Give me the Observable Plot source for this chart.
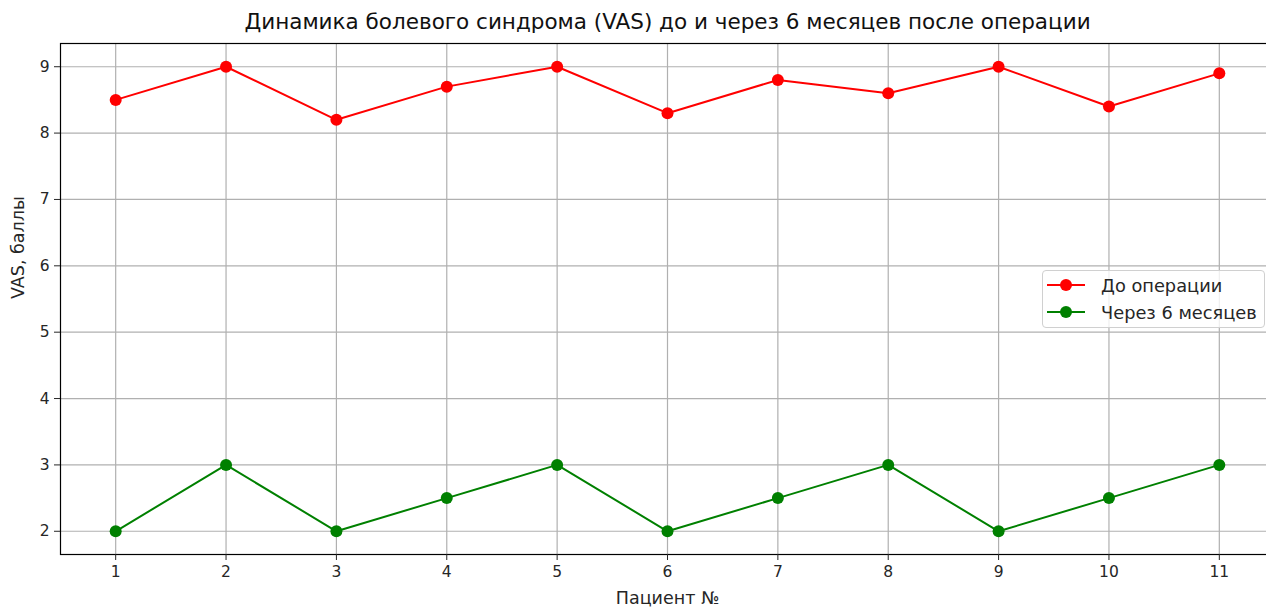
<!DOCTYPE html>
<html>
<head>
<meta charset="utf-8">
<script src="https://cdn.jsdelivr.net/npm/d3@7"></script>
<script src="https://cdn.jsdelivr.net/npm/@observablehq/plot@0.6"></script>
<style>
  html, body { margin: 0; padding: 0; background: #fff; overflow: hidden; }
  #wrap { position: relative; width: 1266px; height: 608px; overflow: hidden; }
  #wrap > svg { max-width: none !important; display: block; }
  #legend {
    position: absolute; left: 1042px; top: 270px; width: 221px; height: 56px;
    border: 1px solid #d0d0d0; border-radius: 4px; background: rgba(255,255,255,0.8);
    font-family: "DejaVu Sans", sans-serif; font-size: 17.8px; color: #262626;
  }
  .item { position: absolute; left: 0; height: 20px; display: flex; align-items: center; }
  .item svg { display: block; margin-left: 4px; }
  .item span { margin-left: 14px; white-space: nowrap; }
</style>
</head>
<body>
<div id="wrap"><div id="legend"></div></div>
<script>
const title = "Динамика болевого синдрома (VAS) до и через 6 месяцев после операции";
const xLabel = "Пациент №";
const yLabel = "VAS, баллы";
const patients = [1, 2, 3, 4, 5, 6, 7, 8, 9, 10, 11];
const before = [8.5, 9, 8.2, 8.7, 9, 8.3, 8.8, 8.6, 9, 8.4, 8.9];
const after = [2, 3, 2, 2.5, 3, 2, 2.5, 3, 2, 2.5, 3];
const yTicks = [2, 3, 4, 5, 6, 7, 8, 9];
const seriesNames = ["До операции", "Через 6 месяцев"];
const seriesColors = ["#ff0000", "#008000"];

const rows = [];
patients.forEach((p, i) => rows.push({p, v: before[i], s: seriesNames[0]}));
patients.forEach((p, i) => rows.push({p, v: after[i], s: seriesNames[1]}));

const chart = Plot.plot({
  width: 1290,
  height: 608,
  marginLeft: 60,
  marginRight: 16,
  marginTop: 43,
  marginBottom: 54,
  style: {fontFamily: "DejaVu Sans, sans-serif", fontSize: "15.5px", color: "#262626", background: "#fff", maxWidth: "none"},
  x: {domain: [0.5, 11.5]},
  y: {domain: [1.65, 9.35]},
  color: {domain: seriesNames, range: seriesColors},
  marks: [
    Plot.gridX(patients, {stroke: "#b0b0b0", strokeOpacity: 1, strokeWidth: 1.2}),
    Plot.gridY(yTicks, {stroke: "#b0b0b0", strokeOpacity: 1, strokeWidth: 1.2}),
    Plot.frame({stroke: "#000", strokeWidth: 1.2}),
    Plot.axisX(patients, {tickSize: 6, tickPadding: 5, label: null, tickFormat: d => String(d)}),
    Plot.axisY(yTicks, {tickSize: 6, tickPadding: 5, label: null, tickFormat: d => String(d)}),
    Plot.text([xLabel], {text: d => d, frameAnchor: "bottom", dy: 44, lineAnchor: "middle", fontSize: 17.5, fill: "#262626"}),
    Plot.text([yLabel], {text: d => d, frameAnchor: "left", dx: -42, rotate: -90, lineAnchor: "middle", fontSize: 17.5, fill: "#262626"}),
    Plot.line(rows, {x: "p", y: "v", z: "s", stroke: "s", strokeWidth: 2}),
    Plot.dot(rows, {x: "p", y: "v", fill: "s", r: 6}),
    Plot.text([title], {text: d => d, frameAnchor: "top", dy: -21, lineAnchor: "middle", fontSize: 21.5, fill: "#111"})
  ]
});
document.getElementById("wrap").prepend(chart);

const legend = document.getElementById("legend");
seriesNames.forEach((name, i) => {
  const div = document.createElement("div");
  div.className = "item";
  div.style.top = (i === 0 ? 4 : 31) + "px";
  div.innerHTML = `<svg width="40" height="20"><line x1="0" y1="10" x2="38" y2="10" stroke="${seriesColors[i]}" stroke-width="2"/><circle cx="19" cy="10" r="6" fill="${seriesColors[i]}"/></svg><span>${name}</span>`;
  legend.appendChild(div);
});
</script>
</body>
</html>
